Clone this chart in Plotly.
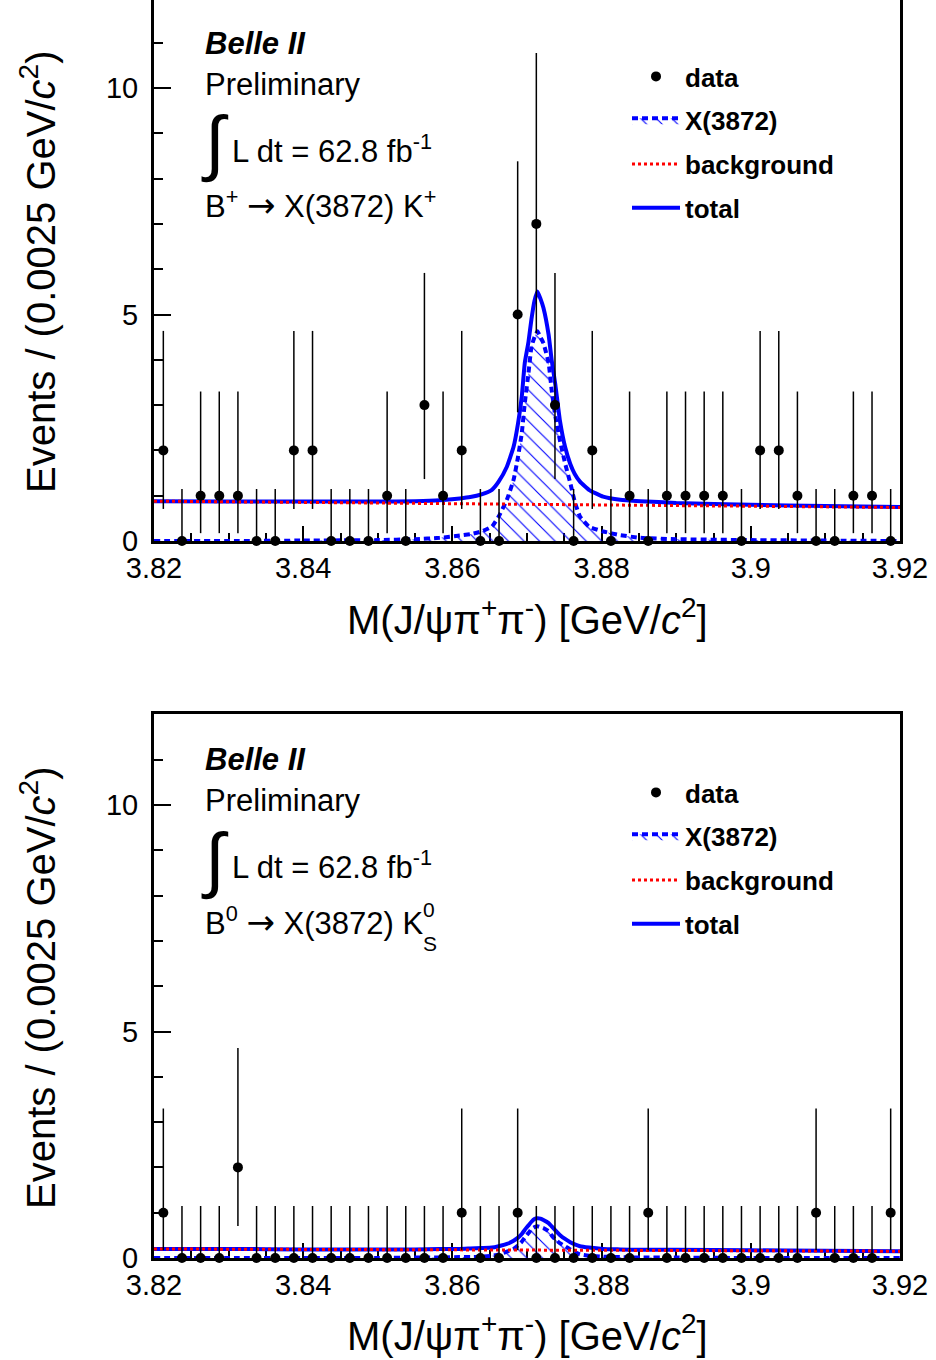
import numpy as np
import plotly.graph_objects as go

# ---------------- data ----------------
MASS_LOW = 3.82
BIN_WIDTH = 0.0025
N_BINS = 40

# event counts per 2.5 MeV bin
COUNTS_CHARGED = [2, 0, 1, 1, 1, 0, 0, 2, 2, 0,
                  0, 0, 1, 0, 3, 1, 2, 0, 0, 5,
                  7, 3, 0, 2, 0, 1, 0, 1, 1, 1,
                  1, 0, 2, 2, 1, 0, 0, 1, 1, 0]
COUNTS_NEUTRAL = [1, 0, 0, 0, 2, 0, 0, 0, 0, 0,
                  0, 0, 0, 0, 0, 0, 1, 0, 0, 1,
                  0, 0, 0, 0, 0, 0, 1, 0, 0, 0,
                  0, 0, 0, 0, 0, 1, 0, 0, 0, 1]

# 68% Poisson intervals drawn for each observed count (lower, upper)
POISSON_INTERVAL = {0: (0.0, 1.148), 1: (0.173, 3.300), 2: (0.708, 4.638),
                    3: (1.367, 5.918), 5: (2.840, 8.382), 7: (4.582, 10.77)}

# fitted curves, sampled
CURVE_MASS = [3.8200, 3.8300, 3.8400, 3.8500, 3.8550, 3.8583, 3.8610, 3.8624,
              3.8639, 3.8653, 3.8662, 3.8673, 3.8682, 3.8688, 3.8693, 3.8697,
              3.8702, 3.8706, 3.8710, 3.8714, 3.8718, 3.8722, 3.8729, 3.8733,
              3.8738, 3.8744, 3.8751, 3.8758, 3.8764, 3.8771, 3.8783, 3.8802,
              3.8825, 3.8852, 3.8900, 3.9000, 3.9100, 3.9200]
SIGNAL_CHARGED = [0.00, 0.00, 0.01, 0.02, 0.04, 0.07, 0.12, 0.15,
                  0.21, 0.32, 0.54, 0.91, 1.35, 1.86, 2.38, 3.04,
                  3.71, 4.29, 4.50, 4.63, 4.50, 4.37, 3.93, 3.34,
                  2.75, 2.23, 1.72, 1.28, 0.87, 0.54, 0.32, 0.21,
                  0.13, 0.07, 0.04, 0.02, 0.01, 0.00]
TOTAL_CHARGED = [0.88, 0.87, 0.87, 0.87, 0.88, 0.90, 0.94, 0.97,
                 1.03, 1.13, 1.31, 1.64, 2.08, 2.60, 3.19, 3.93,
                 4.40, 4.90, 5.30, 5.51, 5.35, 5.15, 4.55, 4.00,
                 3.45, 2.67, 2.08, 1.70, 1.48, 1.31, 1.13, 0.98,
                 0.91, 0.88, 0.84, 0.80, 0.77, 0.75]
SIGNAL_NEUTRAL = [0.00, 0.00, 0.00, 0.00, 0.01, 0.01, 0.02, 0.02,
                  0.03, 0.05, 0.08, 0.14, 0.20, 0.28, 0.36, 0.45,
                  0.55, 0.64, 0.68, 0.70, 0.68, 0.66, 0.59, 0.50,
                  0.41, 0.33, 0.26, 0.19, 0.13, 0.08, 0.05, 0.03,
                  0.02, 0.01, 0.01, 0.00, 0.00, 0.00]
TOTAL_NEUTRAL = [0.20, 0.20, 0.19, 0.19, 0.19, 0.20, 0.20, 0.21,
                 0.22, 0.23, 0.26, 0.31, 0.38, 0.45, 0.53, 0.62,
                 0.72, 0.80, 0.86, 0.88, 0.87, 0.84, 0.77, 0.70,
                 0.61, 0.51, 0.42, 0.35, 0.30, 0.26, 0.23, 0.20,
                 0.19, 0.18, 0.18, 0.17, 0.16, 0.15]
BKG_MASS = [3.82, 3.87, 3.92]
BKG_CHARGED = [0.88, 0.81, 0.74]
BKG_NEUTRAL = [0.20, 0.18, 0.15]

X_TICKS = [3.82, 3.84, 3.86, 3.88, 3.90, 3.92]
X_TICK_LABELS = ["3.82", "3.84", "3.86", "3.88", "3.9", "3.92"]
Y_TICKS = [0, 5, 10]
Y_TICK_LABELS = ["0", "5", "10"]

# ---------------- layout helpers ----------------
W, H = 936, 1360
ML, MR, MT, MB = 154, 36, 0, 102
PW, PH = W - ML - MR, H - MT - MB
FONT = "Liberation Sans"


def px(xp):
    return (xp - ML) / PW


def py(yp):
    return (PH - (yp - MT)) / PH


UNIT = 45.3  # pixels per event
TOP_BOTTOM_PX = 541
BOT_TOP_PX, BOT_BOTTOM_PX = 714, 1258
OFFSET = 716

mass = [MASS_LOW + BIN_WIDTH * (i + 0.5) for i in range(N_BINS)]

fig = go.Figure()


def add_panel(counts, sig, tot, bkg, xa, ya, leg):
    hi = [POISSON_INTERVAL[c][1] - c for c in counts]
    lo = [c - POISSON_INTERVAL[c][0] for c in counts]
    fig.add_trace(go.Scatter(
        x=CURVE_MASS, y=sig, mode="lines", name="X(3872)",
        line=dict(color="#0000ff", width=4, dash="6px,4px", shape="spline", smoothing=0.4),
        fill="tozeroy", fillcolor="rgba(0,0,0,0)",
        fillpattern=dict(shape="\\", fgcolor="#0000ff", bgcolor="rgba(0,0,0,0)",
                         size=11, solidity=0.1, fillmode="replace"),
        xaxis=xa, yaxis=ya, legend=leg, legendgroup=leg + "sig", legendrank=2,
        hoverinfo="skip"))
    fig.add_trace(go.Scatter(
        x=CURVE_MASS, y=tot, mode="lines", name="total",
        line=dict(color="#0000ff", width=4, shape="spline", smoothing=0.4),
        xaxis=xa, yaxis=ya, legend=leg, legendgroup=leg + "tot", legendrank=4,
        hoverinfo="skip"))
    fig.add_trace(go.Scatter(
        x=BKG_MASS, y=bkg, mode="lines", name="background",
        line=dict(color="#ff0000", width=3, dash="3px,3px"),
        xaxis=xa, yaxis=ya, legend=leg, legendgroup=leg + "bkg", legendrank=3,
        hoverinfo="skip"))
    fig.add_trace(go.Scatter(
        x=mass, y=counts, mode="markers", name="data",
        marker=dict(color="black", size=10),
        error_y=dict(type="data", array=hi, arrayminus=lo, color="black",
                     thickness=1.5, width=0),
        cliponaxis=False,
        xaxis=xa, yaxis=ya, legend=leg, legendgroup=leg + "data", legendrank=1,
        hoverinfo="skip"))


add_panel(COUNTS_CHARGED, SIGNAL_CHARGED, TOTAL_CHARGED, BKG_CHARGED, "x", "y", "legend")
add_panel(COUNTS_NEUTRAL, SIGNAL_NEUTRAL, TOTAL_NEUTRAL, BKG_NEUTRAL, "x2", "y2", "legend2")

xcommon = dict(range=[3.82, 3.92], tickmode="array", tickvals=X_TICKS, ticktext=X_TICK_LABELS,
               ticks="inside", ticklen=15, tickwidth=2, tickcolor="black",
               minor=dict(tickmode="linear", tick0=3.82, dtick=0.005, ticks="inside",
                          ticklen=8, tickwidth=2, tickcolor="black"),
               showline=True, linewidth=3, linecolor="black", showgrid=False, zeroline=False,
               tickfont=dict(family=FONT, size=29, color="black"), ticklabelstandoff=-1,
               layer="below traces")
ycommon = dict(tickmode="array", tickvals=Y_TICKS, ticktext=Y_TICK_LABELS,
               ticks="inside", ticklen=17, tickwidth=2, tickcolor="black",
               minor=dict(tickmode="linear", tick0=0, dtick=1, ticks="inside",
                          ticklen=9, tickwidth=2, tickcolor="black"),
               showline=True, linewidth=3, linecolor="black", mirror=True,
               showgrid=False, zeroline=False,
               tickfont=dict(family=FONT, size=29, color="black"), ticklabelstandoff=7,
               layer="below traces")

top_dom = [py(TOP_BOTTOM_PX), 1.0]
bot_dom = [0.0, py(BOT_TOP_PX)]

fig.update_layout(
    width=W, height=H, margin=dict(l=ML, r=MR, t=MT, b=MB),
    paper_bgcolor="white", plot_bgcolor="white",
    font=dict(family=FONT, color="black"),
    xaxis=dict(**xcommon, domain=[0, 1], anchor="y", mirror=False),
    yaxis=dict(**ycommon, domain=top_dom, anchor="x", range=[0, TOP_BOTTOM_PX / UNIT]),
    xaxis2=dict(**xcommon, domain=[0, 1], anchor="y2", mirror=True),
    yaxis2=dict(**ycommon, domain=bot_dom, anchor="x2", range=[0, (BOT_BOTTOM_PX - BOT_TOP_PX) / UNIT]),
    showlegend=True,
)

legstyle = dict(xanchor="left", yanchor="top", bgcolor="rgba(0,0,0,0)", borderwidth=0,
                font=dict(family=FONT, size=26, color="black", weight="bold"),
                traceorder="grouped", tracegroupgap=7, itemwidth=48)
fig.update_layout(
    legend=dict(**legstyle, x=px(627), y=py(53)),
    legend2=dict(**legstyle, x=px(627), y=py(53 + OFFSET)),
)

annots = []


def txt(text, x, y, size=31, xanchor="left", **kw):
    annots.append(dict(text=text, x=px(x), y=py(y), xref="paper", yref="paper",
                       xanchor=xanchor, yanchor="middle", showarrow=False,
                       font=dict(family=FONT, size=size, color="black"), **kw))


ARROW = '<span style="font-family:DejaVu Sans;font-size:34px">\u2192</span>'
for off, decay in [(0, "B<sup>+</sup> " + ARROW + " X(3872) K<sup>+</sup>"),
                   (OFFSET, "B<sup>0</sup> " + ARROW + " X(3872) K")]:
    txt("<b><i>Belle II</i></b>", 203, 43 + off)
    txt("Preliminary", 203, 84 + off)
    txt("\u222b", 199, 143 + off, size=72)
    txt("L dt = 62.8 fb<sup>-1</sup>", 230, 149 + off)
    txt(decay, 203, 205 + off)
    txt("M(J/\u03c8\u03c0<sup>+</sup>\u03c0<sup>-</sup>) [GeV/<i>c</i><sup>2</sup>]",
        527, 617 + off, size=40, xanchor="center")
    txt("Events / (0.0025 GeV/<i>c</i><sup>2</sup>)", 38, 272 + off, size=40,
        xanchor="center", textangle=-90)

txt("0", 421, 909, size=21)
txt("S", 421, 943, size=21)

fig.update_layout(annotations=annots)
fig.write_html("out.html", config={"displayModeBar": False},
               post_script="document.body.style.margin='0px';")
